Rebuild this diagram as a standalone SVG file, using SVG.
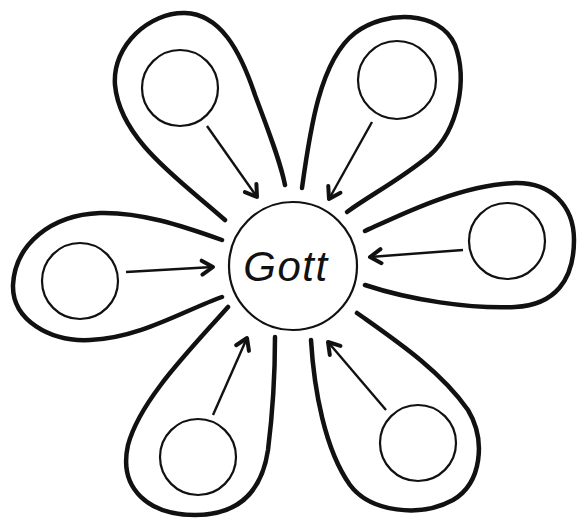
<svg xmlns="http://www.w3.org/2000/svg" width="577" height="518" viewBox="0 0 577 518">
<style>
.petal{fill:none;stroke:#111;stroke-width:4.5;stroke-linecap:round;stroke-linejoin:round}
.node{fill:#fff;stroke:#111;stroke-width:2.2}
.arrow{fill:none;stroke:#111;stroke-width:2.4;marker-end:url(#ah)}
.label{font-family:"Liberation Sans",Arial,sans-serif;font-style:italic;font-size:42px;fill:#111;letter-spacing:1.5px}
</style>
<defs>
<marker id="ah" markerUnits="userSpaceOnUse" markerWidth="20" markerHeight="20" viewBox="-14 -10 18 20" refX="0" refY="0" orient="auto">
<path d="M-11,-7 L0,0 L-11,7" fill="none" stroke="#111" stroke-width="4" stroke-linecap="round" stroke-linejoin="round"/>
</marker>
</defs>
<rect width="577" height="518" fill="#fff"/>
<g id="petals">
<path class="petal" d="M225,220 C180,180 120,140 115,85 C112,45 150,12 185,13 C220,14 240,50 255,95 C268,130 280,160 285,185"/>
<path class="petal" d="M302,188 C310,130 320,60 355,33 C385,10 440,10 455,45 C468,80 458,130 430,155 C400,180 370,195 347,212"/>
<path class="petal" d="M365,231 C400,215 460,185 515,183 C550,182 574,205 574,240 C574,280 555,305 515,307 C470,309 410,300 365,285"/>
<path class="petal" d="M222,240 C180,225 140,212 100,213 C50,215 15,245 13,285 C12,320 50,342 90,340 C140,338 185,310 222,297"/>
<path class="petal" d="M228,307 C190,350 140,400 128,445 C118,490 150,515 195,515 C240,515 262,490 268,450 C273,410 275,370 275,337"/>
<path class="petal" d="M311,340 C314,390 325,450 350,485 C370,512 420,518 453,500 C482,483 486,440 468,410 C440,370 395,340 357,313"/>
</g>
<g id="connectors">
<line class="arrow" x1="207" y1="126" x2="257" y2="197"/>
<line class="arrow" x1="372" y1="122" x2="329" y2="199"/>
<line class="arrow" x1="463" y1="250" x2="370" y2="257"/>
<line class="arrow" x1="126" y1="272" x2="213" y2="267"/>
<line class="arrow" x1="213" y1="415" x2="247" y2="338"/>
<line class="arrow" x1="386" y1="410" x2="328" y2="342"/>
</g>
<g id="gott">
<circle class="node" cx="293" cy="266" r="64"/>
<text class="label" x="286" y="281" text-anchor="middle">Gott</text>
</g>
<g id="n1"><circle class="node" cx="180" cy="88" r="38"/></g>
<g id="n2"><circle class="node" cx="397" cy="80" r="39"/></g>
<g id="n3"><circle class="node" cx="507" cy="241" r="38"/></g>
<g id="n4"><circle class="node" cx="80" cy="281" r="38"/></g>
<g id="n5"><circle class="node" cx="198" cy="457" r="38"/></g>
<g id="n6"><circle class="node" cx="418" cy="443" r="38"/></g>
</svg>
